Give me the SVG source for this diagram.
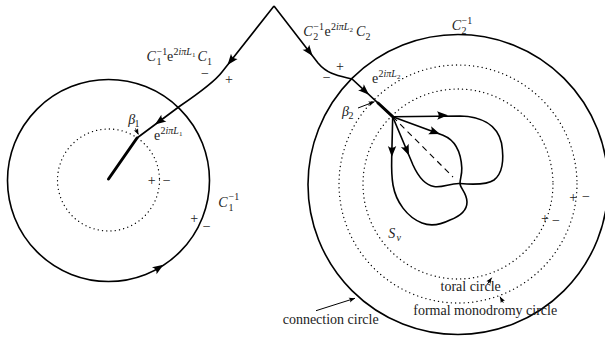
<svg xmlns="http://www.w3.org/2000/svg" width="605" height="339" viewBox="0 0 605 339">
<defs>
<path id="ah" d="M0,0 L-11,-4.2 Q-7.5,0 -11,4.2 Z" fill="#000"/>
<path id="sah" d="M0,0 L-6,-2.4 Q-4,0 -6,2.4 Z" fill="#000"/>
</defs>
<style>
.c{fill:none;stroke:#000;stroke-width:1.6}
.k{fill:none;stroke:#000;stroke-width:3;stroke-linecap:round}
.thin{fill:none;stroke:#000;stroke-width:1}
.d{fill:none;stroke:#000;stroke-width:1.3;stroke-dasharray:0.1 4.2;stroke-linecap:round}
.dash{fill:none;stroke:#000;stroke-width:1.1;stroke-dasharray:6 4.5}
.t{font-family:"Liberation Serif","DejaVu Serif",serif;font-size:14px;fill:#222}
.i{font-style:italic}
.s{font-size:10px}
.ss{font-size:7px}
.pm{font-family:"Liberation Serif","DejaVu Serif",serif;font-size:14px;fill:#222;text-anchor:middle}
</style>

<g id="left-disc">
<circle class="c" cx="108.5" cy="180.5" r="101"/>
<circle class="d" cx="108.5" cy="180" r="51"/>
<use href="#ah" transform="translate(163.5,264.7) rotate(-33)"/>
</g>

<g id="right-disc">
<circle class="c" cx="458" cy="184.5" r="150"/>
<circle class="d" cx="458" cy="184" r="119"/>
<circle class="d" cx="458" cy="184" r="95"/>
</g>

<g id="petals">
<path class="c" d="M392.7,116.7 L460,116 C480,116.5 497,124 501.5,143 C504,158 503,173 494,180 C487,185 472,184.5 460,183.5 C450,183 443,188 434,186.5 C425,185 418,176 413,165 Z"/>
<path class="c" d="M392.7,116.7 L443,135.2 C455,140 461,152 461.8,168 C462,175 460,179 460,183.5 C460,188 467,193 467,202 C467,211 458,217 450,220 C442,224 432,227 422,223 C407,217 396,202 393,185 C391.5,176 391.5,166 391.7,158 Z"/>
<path class="dash" d="M392.7,116.7 L453,177"/>
<use href="#ah" transform="translate(448,115.3) rotate(-0.8)"/>
<use href="#ah" transform="translate(440,134) rotate(20)"/>
<use href="#ah" transform="translate(409,155.5) rotate(67.2)"/>
<use href="#ah" transform="translate(391.8,157) rotate(91.4)"/>
</g>

<g id="connectors">
<path class="c" d="M274,6 L222,72 C216,80 205,89 180,106 L137,138"/>
<path class="k" d="M137,138 L108.5,179"/>
<path class="c" d="M274,6 L318,63 C328,75 340,76 352,79 L392.7,116.7"/>
<path class="k" d="M378,103 L392.7,116.7"/>
<use href="#ah" transform="translate(227.5,65) rotate(128.2)"/>
<use href="#ah" transform="translate(155,124.6) rotate(143.3)"/>
<use href="#ah" transform="translate(312.6,56) rotate(52.3)"/>
<use href="#ah" transform="translate(369,94.7) rotate(42.8)"/>
<path class="thin" d="M135.5,128.5 L138.3,134.3"/>
<use href="#sah" transform="translate(138.5,134.7) rotate(64)"/>
<path class="thin" d="M358,108 L374.5,101.7"/>
<use href="#sah" transform="translate(374.5,101.7) rotate(-21)"/>
<path class="thin" d="M316,310.7 L355,298.3"/>
<use href="#sah" transform="translate(355,298.3) rotate(-17.6)"/>
<path class="thin" d="M487.5,284 L491.7,277.7"/>
<use href="#sah" transform="translate(491.7,277.7) rotate(-56)"/>
<path class="thin" d="M503.3,302.7 L500,296.7"/>
<use href="#sah" transform="translate(500,296.7) rotate(-119)"/>
</g>

<g id="labels">
<text class="t"><tspan class="i" x="146.5" y="61">C</tspan><tspan class="s" x="156.5" y="55">−1</tspan><tspan class="s" x="156.5" y="64.5">1</tspan><tspan x="167" y="61">e</tspan><tspan class="s" x="173.5" y="55">2<tspan class="i">iπL</tspan></tspan><tspan class="ss" x="192" y="57">1</tspan><tspan class="i" x="197.5" y="61">C</tspan><tspan class="s" x="207" y="64.5">1</tspan></text>
<text class="t"><tspan class="i" x="303.3" y="36">C</tspan><tspan class="s" x="313.3" y="30">−1</tspan><tspan class="s" x="313.3" y="39.5">2</tspan><tspan x="324.5" y="36">e</tspan><tspan class="s" x="331" y="30">2<tspan class="i">iπL</tspan></tspan><tspan class="ss" x="349.5" y="32">2</tspan><tspan class="i" x="356" y="36">C</tspan><tspan class="s" x="365.5" y="39.5">2</tspan></text>
<text class="t"><tspan x="372" y="82.5">e</tspan><tspan class="s" x="378.5" y="76.5">2<tspan class="i">iπL</tspan></tspan><tspan class="ss" x="397" y="78.5">2</tspan></text>
<text class="t"><tspan x="154" y="140">e</tspan><tspan class="s" x="160.5" y="134">2<tspan class="i">iπL</tspan></tspan><tspan class="ss" x="179" y="136">1</tspan></text>
<text class="t"><tspan class="i" x="218.3" y="207">C</tspan><tspan class="s" x="228.5" y="200">−1</tspan><tspan class="s" x="228.5" y="210.5">1</tspan></text>
<text class="t"><tspan class="i" x="451.7" y="30">C</tspan><tspan class="s" x="461.5" y="23.5">−1</tspan><tspan class="s" x="461.5" y="33.5">2</tspan></text>
<text class="t"><tspan class="i" x="128.3" y="124">β</tspan><tspan class="s" x="134.5" y="127">1</tspan></text>
<text class="t"><tspan class="i" x="342" y="115.5">β</tspan><tspan class="s" x="348.5" y="118.5">2</tspan></text>
<text class="t"><tspan class="i" x="388.3" y="238">S</tspan><tspan class="s i" x="396.5" y="240.5">ν</tspan></text>
<text class="t" x="440.5" y="291">toral circle</text>
<text class="t" x="413.3" y="315">formal monodromy circle</text>
<text class="t" x="282.7" y="324">connection circle</text>
<text class="pm" x="205" y="78">−</text>
<text class="pm" x="229" y="84">+</text>
<text class="pm" x="340" y="71">+</text>
<text class="pm" x="326.7" y="82">−</text>
<text class="pm" x="151.7" y="184.5">+</text>
<text class="pm" x="166.7" y="184.5">−</text>
<text class="pm" x="194.3" y="223">+</text>
<text class="pm" x="206.7" y="230.5">−</text>
<text class="pm" x="573.3" y="202">+</text>
<text class="pm" x="586" y="201">−</text>
<text class="pm" x="545" y="223">+</text>
<text class="pm" x="556" y="224.5">−</text>
</g>
</svg>
